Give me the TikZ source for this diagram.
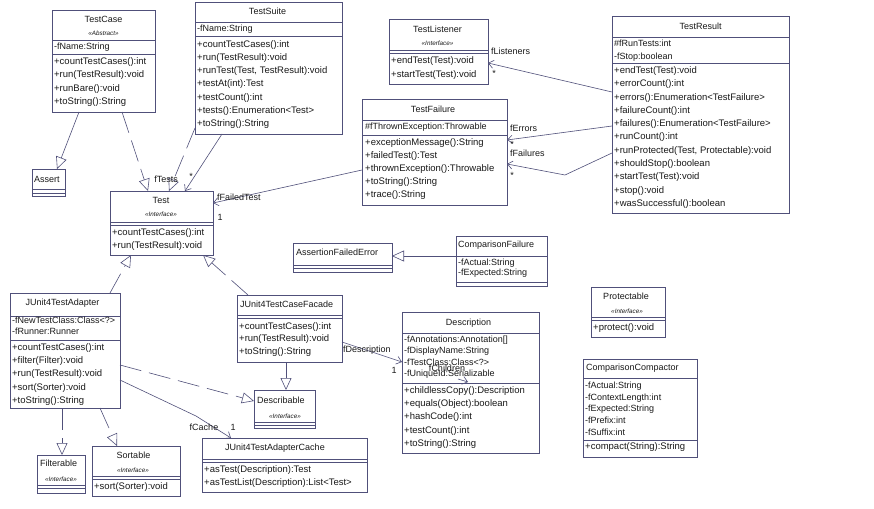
\documentclass[tikz,border=0pt]{standalone}
\usepackage{fontspec}
\setmainfont{Liberation Sans}
\usetikzlibrary{fit,arrows.meta}
\definecolor{linec}{RGB}{80,80,122}
\definecolor{txtc}{RGB}{25,25,25}
\tikzset{
 box/.style={draw=linec, line width=0.75pt, inner sep=0pt, outer sep=0pt, rectangle},
 div/.style={draw=linec, line width=0.75pt},
 ttl/.style={inner sep=0pt, text height=6.6pt, text depth=1.8pt, font=\fontsize{9}{11}\selectfont, text=txtc},
 ster/.style={inner sep=0pt, font=\fontsize{6.3}{7}\selectfont\itshape, text=txtc},
 att/.style={inner sep=0pt, anchor=west, text height=6.6pt, text depth=1.8pt, font=\fontsize{9}{11}\selectfont, text=txtc},
 meth/.style={inner sep=0pt, anchor=west, text height=6.8pt, text depth=1.9pt, font=\fontsize{9.5}{12}\selectfont, text=txtc},
 lbl/.style={inner sep=0pt, text height=6.6pt, text depth=1.8pt, font=\fontsize{9}{11}\selectfont, text=txtc},
 gen/.style={draw=linec, line width=0.6pt, -{Triangle[open, length=12pt, width=11pt]}},
 real/.style={gen, dash pattern=on 22pt off 8pt},
 assoc/.style={draw=linec, line width=0.6pt, -{Straight Barb[length=5pt, width=8pt]}},
}
\newcommand\mlines[6]{\foreach \t [count=\i] in {#6}{\node[#1] (#2\i) at (#3,{#4+(\i-1)*#5}) {\t};}}
\newcommand\umlbox[5]{\node[box, fit={(#2,#3) (#4,#5)}] (#1) {};}
\newcommand\divs[2]{\foreach \yy in {#2}{\draw[div] (#1.west |- 0,\yy) -- (#1.east |- 0,\yy);}}
\begin{document}
\begin{tikzpicture}[x=1pt,y=-1pt]
\fill[white] (0,0) rectangle (874,508);
\useasboundingbox (0,0) rectangle (874,508);

% TestCase
\umlbox{tc}{52}{10}{155}{112}
\divs{tc}{40,54}
\node[ttl] (tcT) at (103.5,20) {TestCase};
\node[ster] (tcS) at (103.5,33) {«Abstract»};
\mlines{att}{tca}{54}{47}{13}{-fName:String}
\mlines{meth}{tcm}{54}{62}{13.3}{+countTestCases():int, +run(TestResult):void, +runBare():void, +toString():String}

% TestSuite
\umlbox{ts}{195}{2}{342}{134}
\divs{ts}{22,36}
\node[ttl] (tsT) at (267.5,12) {TestSuite};
\mlines{att}{tsa}{197}{29}{13}{-fName:String}
\mlines{meth}{tsm}{197}{45}{13.17}{+countTestCases():int, +run(TestResult):void, {+runTest(Test, TestResult):void}, +testAt(int):Test, +testCount():int, +tests():Enumeration<Test>, +toString():String}

% TestListener
\umlbox{tl}{389}{19}{488}{84}
\divs{tl}{50,53}
\node[ttl] (tlT) at (437.5,30) {TestListener};
\node[ster] (tlS) at (437.5,43) {«Interface»};
\mlines{meth}{tlm}{391}{61}{14}{+endTest(Test):void, +startTest(Test):void}

% TestFailure
\umlbox{tf}{362}{99}{507}{205}
\divs{tf}{120,135}
\node[ttl] (tfT) at (433,110) {TestFailure};
\mlines{att}{tfa}{365}{127}{13}{\#fThrownException:Throwable}
\mlines{meth}{tfm}{365}{143}{13}{+exceptionMessage():String, +failedTest():Test, +thrownException():Throwable, +toString():String, +trace():String}

% TestResult
\umlbox{tr}{612}{16}{789}{213}
\divs{tr}{37,63}
\node[ttl] (trT) at (700.5,27) {TestResult};
\mlines{att}{tra}{614}{44}{13}{\#fRunTests:int, -fStop:boolean}
\mlines{meth}{trm}{614}{71}{13.3}{+endTest(Test):void, +errorCount():int, +errors():Enumeration<TestFailure>, +failureCount():int, +failures():Enumeration<TestFailure>, +runCount():int, {+runProtected(Test, Protectable):void}, +shouldStop():boolean, +startTest(Test):void, +stop():void, +wasSuccessful():boolean}

% Assert
\umlbox{as}{32}{169}{65}{196}
\divs{as}{189,193}
\node[ttl, anchor=west] (asT) at (34,180) {Assert};

% Test
\umlbox{te}{110}{191}{213}{255}
\divs{te}{222,225}
\node[ttl] (teT) at (161,201) {Test};
\node[ster] (teS) at (161,214) {«Interface»};
\mlines{meth}{tem}{112}{233}{13}{+countTestCases():int, +run(TestResult):void}

% AssertionFailedError
\umlbox{afe}{293}{243}{392}{272}
\divs{afe}{265,268}
\node[ttl, anchor=west] (afeT) at (296,253) {AssertionFailedError};

% ComparisonFailure
\umlbox{cf}{456}{236}{547}{286}
\divs{cf}{256,282}
\node[ttl, anchor=west] (cfT) at (458,245) {ComparisonFailure};
\mlines{att}{cfa}{458}{263}{10}{-fActual:String, -fExpected:String}

% JUnit4TestAdapter
\umlbox{ja}{10}{293}{120}{408}
\divs{ja}{316,340}
\node[ttl] (jaT) at (62.5,303) {JUnit4TestAdapter};
\mlines{att}{jaa}{12}{321}{11}{-fNewTestClass:Class<?>, -fRunner:Runner}
\mlines{meth}{jam}{12}{348}{13.25}{+countTestCases():int, +filter(Filter):void, +run(TestResult):void, +sort(Sorter):void, +toString():String}

% Filterable
\umlbox{fi}{37}{455}{85}{493}
\divs{fi}{485,488}
\node[ttl, anchor=west] (fiT) at (40,464) {Filterable};
\node[ster] (fiS) at (61,479) {«Interface»};

% Sortable
\umlbox{so}{92}{446}{180}{496}
\divs{so}{476,479}
\node[ttl] (soT) at (133.5,456) {Sortable};
\node[ster] (soS) at (133,470) {«Interface»};
\mlines{meth}{som}{94}{487}{13}{+sort(Sorter):void}

% JUnit4TestCaseFacade
\umlbox{jf}{237}{295}{342}{362}
\divs{jf}{315,318}
\node[ttl, anchor=west] (jfT) at (240,305) {JUnit4TestCaseFacade};
\mlines{meth}{jfm}{239}{327}{12.5}{+countTestCases():int, +run(TestResult):void, +toString():String}

% Describable
\umlbox{ds}{254}{390}{315}{428}
\divs{ds}{422,425}
\node[ttl, anchor=west] (dsT) at (257,401) {Describable};
\node[ster] (dsS) at (285,416) {«Interface»};

% JUnit4TestAdapterCache
\umlbox{jc}{202}{438}{367}{492}
\divs{jc}{459,462}
\node[ttl, anchor=west] (jcT) at (225,448) {JUnit4TestAdapterCache};
\mlines{meth}{jcm}{204}{470}{13}{+asTest(Description):Test, +asTestList(Description):List<Test>}

% Description
\umlbox{de}{402}{312}{539}{453}
\divs{de}{333,383}
\node[ttl] (deT) at (468.5,323) {Description};
\mlines{att}{dea}{404}{340}{11.3}{-fAnnotations:Annotation[], -fDisplayName:String, -fTestClass:Class<?>, -fUniqueId:Serializable}
\mlines{meth}{dem}{404}{391}{13.25}{+childlessCopy():Description, +equals(Object):boolean, +hashCode():int, +testCount():int, +toString():String}

% Protectable
\umlbox{pr}{591}{287}{665}{337}
\divs{pr}{317,320}
\node[ttl] (prT) at (626,297) {Protectable};
\node[ster] (prS) at (627,311) {«Interface»};
\mlines{meth}{prm}{593}{328}{13}{+protect():void}

% ComparisonCompactor
\umlbox{cc}{583}{359}{697}{457}
\divs{cc}{378,440}
\node[ttl, anchor=west] (ccT) at (586,368) {ComparisonCompactor};
\mlines{att}{cca}{585}{386}{11.75}{-fActual:String, -fContextLength:int, -fExpected:String, -fPrefix:int, -fSuffix:int}
\mlines{meth}{ccm}{585}{447}{13}{+compact(String):String}

% ---- connectors ----
\draw[gen] (79,0 |- tc.south) -- (57,0 |- as.north);
\draw[real] (122,0 |- tc.south) -- (148,0 |- te.north);
\draw[real] (ts.west |- 0,128) -- (169,0 |- te.north);
\draw[assoc] (222,0 |- ts.south) -- (185,0 |- te.north);
\node[lbl] (lTests) at (166,180) {fTests};
\node[lbl] (lTestsM) at (191,177) {*};

\draw[assoc] (tf.west |- 0,170) -- (te.east |- 0,203);
\node[lbl, anchor=west] (lFT) at (217,198) {fFailedTest};
\node[lbl] (lFT1) at (220,218) {1};

\draw[assoc] (tr.west |- 0,92) -- (tl.east |- 0,63);
\node[lbl, anchor=west] (lLis) at (491,52) {fListeners};
\node[lbl] (lLisM) at (494,74) {*};

\draw[assoc] (tr.west |- 0,126) -- (tf.east |- 0,140);
\node[lbl, anchor=west] (lErr) at (510,129) {fErrors};
\node[lbl] (lErrM) at (512,145) {*};

\coordinate (bendF) at (565,175);
\draw[assoc] (tr.west |- 0,153) -- (bendF) -- (tf.east |- 0,164);
\node[lbl, anchor=west] (lFai) at (510,154) {fFailures};
\node[lbl] (lFaiM) at (512,176) {*};

\draw[gen] (cf.west |- 0,256) -- (afe.east |- 0,256);

\draw[real] (110,0 |- ja.north) -- (131,0 |- te.south);
\draw[real] (248,0 |- jf.north) -- (203,0 |- te.south);
\draw[real] (62,0 |- ja.south) -- (62,0 |- fi.north);
\draw[real] (100,0 |- ja.south) -- (117,0 |- so.north);
\draw[real] (ja.east |- 0,365) -- (ds.west |- 0,401);

\coordinate (bendC) at (196,416);
\draw[assoc] (ja.east |- 0,380) -- (bendC) -- (231,0 |- jc.north);
\node[lbl] (lCache) at (204,428) {fCache};
\node[lbl] (lCache1) at (233,428) {1};

\draw[gen] (286,0 |- jf.south) -- (286,0 |- ds.north);

\draw[assoc] (jf.east |- 0,342) -- (de.west |- 0,362);
\node[lbl, anchor=west] (lDesc) at (343,350) {fDescription};
\node[lbl] (lDesc1) at (394,371) {1};

\coordinate (chA) at (458,379);
\coordinate (chB) at (468,382);
\draw[assoc] (chA) -- (chB);
\node[lbl] (lChil) at (447,369) {fChildren};
\end{tikzpicture}
\end{document}
